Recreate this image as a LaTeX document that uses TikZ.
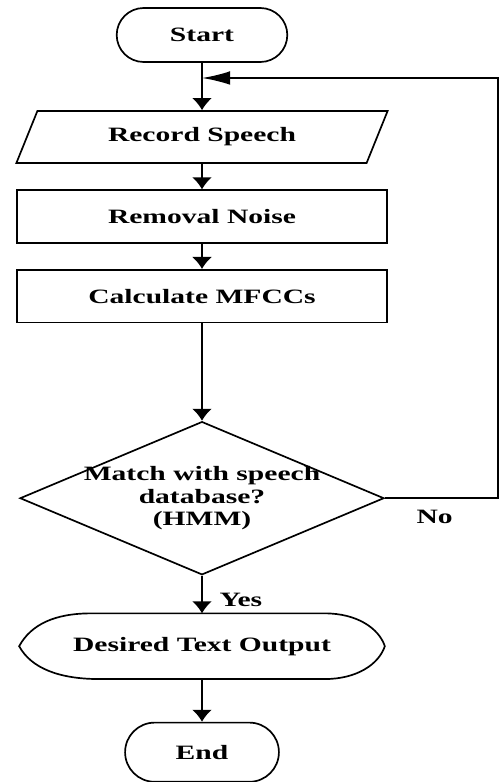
\documentclass[tikz,border=0pt]{standalone}
\usepackage{fontspec}
\setmainfont{Liberation Serif}[FakeStretch=1.45]
\usetikzlibrary{shapes, arrows.meta}

\begin{document}
\begin{tikzpicture}[line width=1.2pt, font=\fontsize{14.5}{16}\selectfont\bfseries]
            \tikzstyle{terminal} = [draw, rounded rectangle, minimum height=1.35cm]
            \tikzstyle{io} = [draw, trapezium, trapezium left angle=53, trapezium right angle=127, trapezium stretches body, minimum width=9.28cm, minimum height=1.3cm]
            \tikzstyle{process} = [draw, rectangle, minimum width=9.25cm, minimum height=1.32cm]
            \tikzstyle{decision} = [draw, diamond, aspect=2.4, inner sep=-0.2cm, minimum width=9.1cm, minimum height=3.83cm, align=center]
            \tikzstyle{display} = [minimum width=9.1cm, minimum height=1.6cm]
            \tikzstyle{flow} = [-{Latex[length=3mm, width=5mm]}]
            \tikzstyle{feedback} = [-{Latex[length=7mm, width=3.4mm]}]

            \useasboundingbox (0,0) rectangle (12.575,-19.55);

            \node[terminal, minimum width=4.5cm] (start) at (5.05,-0.875) {Start};
            \coordinate[node distance=1.075cm, below of=start] (join);
            \node[io, node distance=2.55cm, below of=start] (record) {Record Speech};
            \node[process, node distance=1.99cm, below of=record] (noise) {Removal Noise};
            \node[process, node distance=1.99cm, below of=noise] (mfcc) {Calculate MFCCs};
            \node[decision, node distance=5.05cm, below of=mfcc] (match) {Match with speech\\database?\\(HMM)};
            \coordinate[node distance=7.4cm, right of=match] (back);
            \node[display, node distance=3.7cm, below of=match] (output) {Desired Text Output};
            \node[terminal, minimum width=4.08cm, minimum height=1.48cm, node distance=2.65cm, below of=output] (end) {End};

            % display shape round the output node
            \draw (output.west) .. controls ([xshift=0.3cm, yshift=0.55cm]output.west) and ([xshift=0.9cm]output.north west) .. ([xshift=1.8cm]output.north west)
                -- ([xshift=-1.5cm]output.north east) .. controls ([xshift=-0.7cm]output.north east) and ([xshift=-0.15cm, yshift=0.45cm]output.east) .. (output.east)
                .. controls ([xshift=-0.15cm, yshift=-0.45cm]output.east) and ([xshift=-0.7cm]output.south east) .. ([xshift=-1.5cm]output.south east)
                -- ([xshift=2.0cm]output.south west) .. controls ([xshift=1.0cm]output.south west) and ([xshift=0.3cm, yshift=-0.55cm]output.west) .. cycle;

            \draw[flow] (start.south) -- (record.north);
            \draw[flow] (record.south) -- (noise.north);
            \draw[flow] (noise.south) -- (mfcc.north);
            \draw[flow] (mfcc.south) -- (match.north);
            \draw[flow] (match.south) -- node[right, pos=0.65, xshift=0.3cm] {Yes} (output.north);
            \draw[flow] (output.south) -- (end.north);
            \draw[feedback] (match.east) -- node[below, pos=0.44, yshift=-0.15cm] {No} (back) |- (join);
        \end{tikzpicture}
\end{document}
